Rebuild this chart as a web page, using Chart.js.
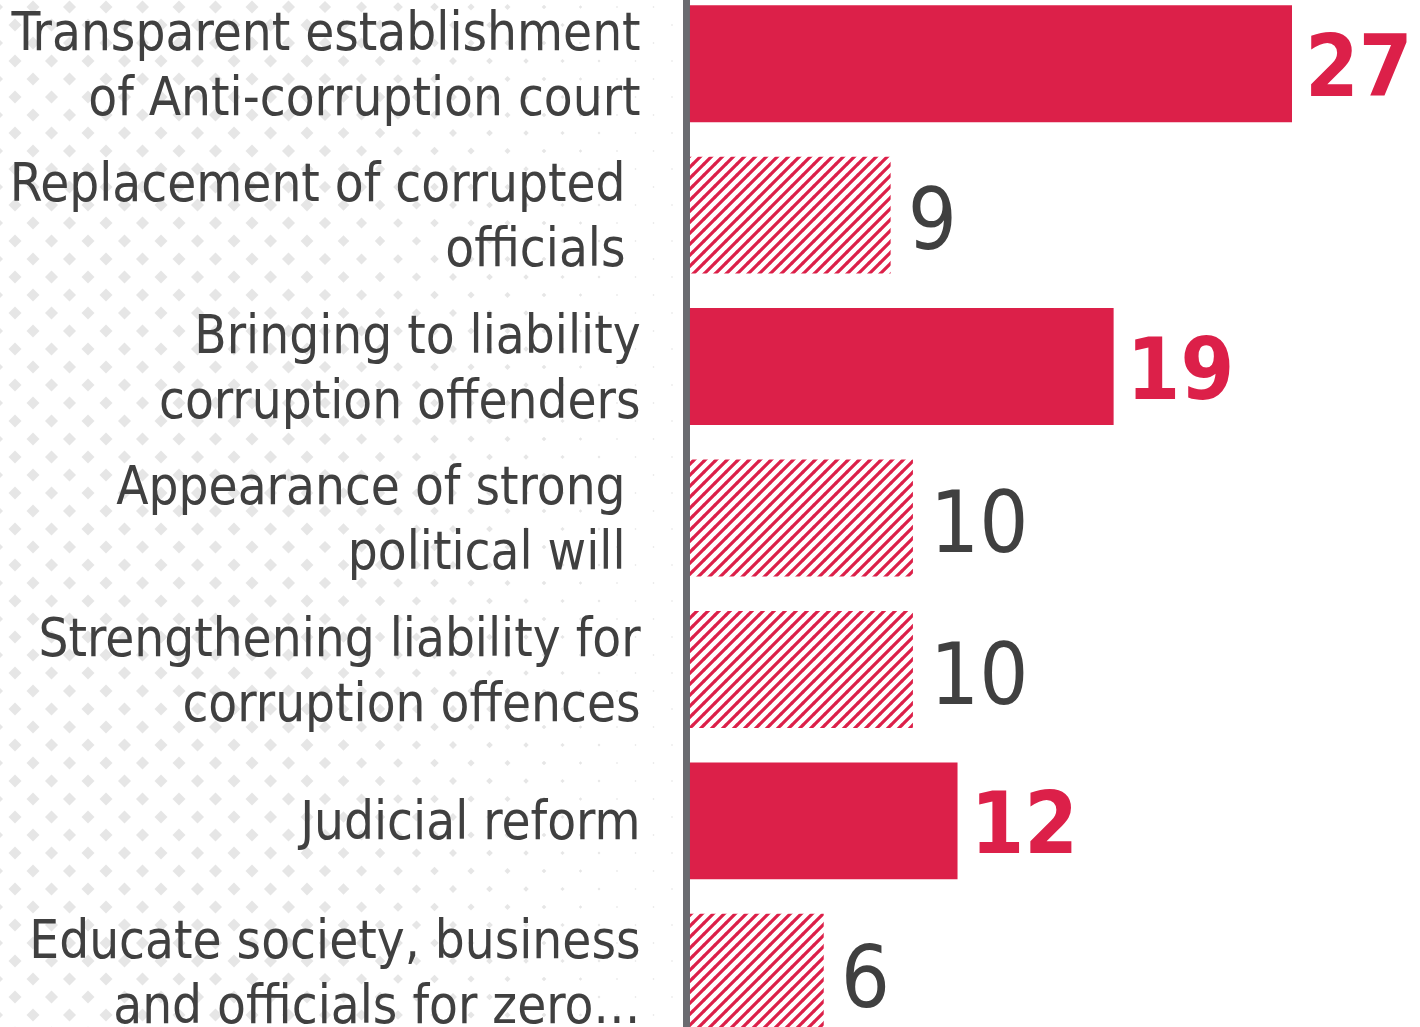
<!DOCTYPE html>
<html>
<head>
<meta charset="utf-8">
<script src="https://cdn.jsdelivr.net/npm/chart.js@4/dist/chart.umd.min.js"></script>
<style>
    html, body { margin: 0; padding: 0; background: #fff; overflow: hidden; }
    #wrap { position: absolute; left: 0; top: -12px; width: 1420px; height: 1060px; }
</style>
</head>
<body>
<div id="wrap"><canvas id="barChart"></canvas></div>
<script>
// Chart data
const categories = [
    ['Transparent establishment', 'of Anti-corruption court'],
    ['Replacement of corrupted ', 'officials '],
    ['Bringing to liability', 'corruption offenders'],
    ['Appearance of strong ', 'political will '],
    ['Strengthening liability for', 'corruption offences'],
    ['Judicial reform'],
    ['Educate society, business', 'and officials for zero\u2026']
];
const values = [27, 9, 19, 10, 10, 12, 6];
const highlighted = [true, false, true, false, false, true, false];

const RED = '#dc2049';
const TEXT = '#404040';
const FONT = '"DejaVu Sans Condensed", "DejaVu Sans", sans-serif';

// Diagonal hatch pattern for the non highlighted bars
function makeHatch() {
    const size = 11;
    const c = document.createElement('canvas');
    c.width = size;
    c.height = size;
    const g = c.getContext('2d');
    g.strokeStyle = RED;
    g.lineWidth = 3.2;
    g.beginPath();
    g.moveTo(-1, size + 1);
    g.lineTo(size + 1, -1);
    g.moveTo(-1, 1);
    g.lineTo(1, -1);
    g.moveTo(size - 1, size + 1);
    g.lineTo(size + 1, size - 1);
    g.stroke();
    return g.createPattern(c, 'repeat');
}

// Dotted background behind the category labels
const dotBackground = {
    id: 'dotBackground',
    beforeDraw(chart) {
        const ctx = chart.ctx;
        const right = chart.chartArea.left - 4;
        ctx.save();
        ctx.fillStyle = '#e6e6e6';
        for (let row = 0; row * 18 < chart.height + 20; row++) {
            const y = 1 + row * 18;
            const off = row % 2 === 0 ? 15 : 33;
            for (let x = off - 36.5; x < right; x += 36.5) {
                let s = 6.5 * Math.max(0, Math.min(1, (right - x) / 380));
                if (s < 1) s = 1;
                ctx.beginPath();
                ctx.moveTo(x, y - s);
                ctx.lineTo(x + s, y);
                ctx.lineTo(x, y + s);
                ctx.lineTo(x - s, y);
                ctx.closePath();
                ctx.fill();
            }
        }
        ctx.restore();
    }
};

// Value labels at the end of the bars
const valueLabels = {
    id: 'valueLabels',
    afterDatasetsDraw(chart) {
        const ctx = chart.ctx;
        const meta = chart.getDatasetMeta(0);
        ctx.save();
        ctx.textAlign = 'left';
        ctx.textBaseline = 'middle';
        meta.data.forEach((bar, i) => {
            const bold = highlighted[i];
            ctx.font = (bold ? 'bold ' : '') + '86px ' + FONT;
            ctx.fillStyle = bold ? RED : TEXT;
            ctx.fillText(String(values[i]), bar.x + (bold ? 13 : 17), bar.y + (bold ? 10 : 12));
        });
        ctx.restore();
    }
};

document.addEventListener('DOMContentLoaded', function() {
    const hatch = makeHatch();
    const ctx = document.getElementById('barChart').getContext('2d');
    new Chart(ctx, {
        type: 'bar',
        data: {
            labels: categories,
            datasets: [{
                data: values,
                backgroundColor: highlighted.map(h => h ? RED : hatch),
                borderWidth: 0,
                categoryPercentage: 1,
                barPercentage: 0.772
            }]
        },
        options: {
            indexAxis: 'y',
            responsive: true,
            maintainAspectRatio: false,
            animation: false,
            layout: { padding: 0 },
            plugins: {
                legend: { display: false },
                tooltip: { enabled: false }
            },
            scales: {
                x: {
                    display: false,
                    min: -0.15,
                    max: 32.74
                },
                y: {
                    z: 1,
                    afterFit(scale) {
                        scale.width = 686.6;
                        scale.paddingTop = 0;
                        scale.paddingBottom = 0;
                    },
                    grid: { display: false, drawTicks: false },
                    border: { display: true, color: '#6a6b70', width: 7 },
                    ticks: {
                        padding: 46,
                        labelOffset: 5,
                        color: TEXT,
                        font: { family: FONT, size: 52.5, lineHeight: 1.24 }
                    }
                }
            }
        },
        plugins: [dotBackground, valueLabels]
    });
});
</script>
</body>
</html>
